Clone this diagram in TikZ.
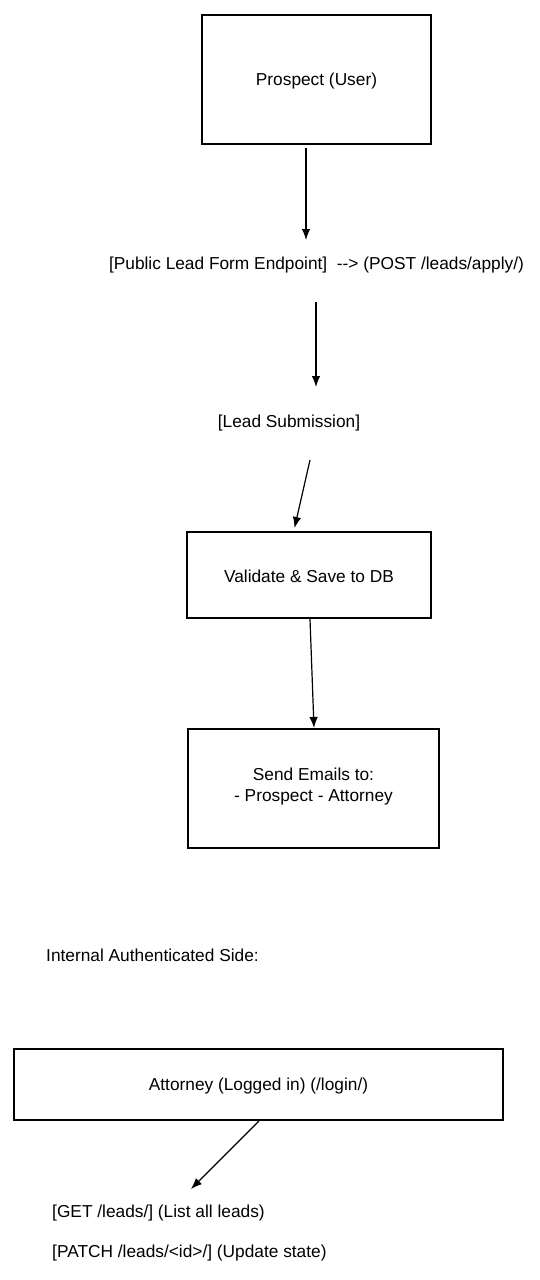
\documentclass[tikz,border=0pt]{standalone}
\usepackage{fontspec}
\setmainfont{Liberation Sans}
\usetikzlibrary{arrows.meta}
\begin{document}
\begin{tikzpicture}[x=1pt,y=-1pt,
  box/.style={draw=black,line width=1.2pt,fill=white,inner sep=0pt},
  lbl/.style={font=\fontsize{17.3}{21}\selectfont,inner sep=0pt},
  conn/.style={line width=1.2pt,-{Latex[length=11pt,width=8.5pt]}}]
\useasboundingbox (0,0) rectangle (540,1280);
\fill[white] (0,0) rectangle (540,1280);
% boxes
\draw[box] (202,15) rectangle (431,144);
\node[lbl] (prospect) at (316.5,81) {Prospect (User)};
\draw[box] (187,532) rectangle (431,618);
\node[lbl] (validate) at (309,576.5) {Validate \& Save to DB};
\draw[box] (188,729) rectangle (439,848);
\node[lbl,align=center] (send) at (313.5,787) {Send Emails to:\\- Prospect - Attorney};
\draw[box] (14,1049) rectangle (503,1120);
\node[lbl] (attorney) at (258.5,1086) {Attorney (Logged in) (/login/)};
% texts
\node[lbl] (public) at (316.5,265.5) {[Public Lead Form Endpoint]\ \ -{}-{}> (POST /leads/apply/)};
\node[lbl] (submission) at (289,423.5) {[Lead Submission]};
\node[lbl,anchor=west] (internal) at (46,955.5) {Internal Authenticated Side:};
\node[lbl,anchor=west] (get) at (52,1213.5) {[GET /leads/] (List all leads)};
\node[lbl,anchor=west] (patch) at (52,1253.5) {[PATCH /leads/<id>/] (Update state)};
% connector endpoints
\coordinate (a1s) at (306,148);
\coordinate (a1e) at (306,240);
\coordinate (a2s) at (316,302);
\coordinate (a2e) at (316,387);
\coordinate (a3s) at (310,460);
\coordinate (a3e) at (294.5,528);
\coordinate (a4s) at (310,619);
\coordinate (a4e) at (314,728);
\coordinate (a5s) at (259,1121);
\coordinate (a5e) at (191,1189);
\draw[conn] (a1s) -- (a1e);
\draw[conn] (a2s) -- (a2e);
\draw[conn] (a3s) -- (a3e);
\draw[conn] (a4s) -- (a4e);
\draw[conn] (a5s) -- (a5e);
\end{tikzpicture}
\end{document}
